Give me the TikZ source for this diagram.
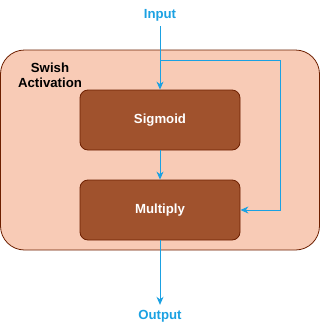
\documentclass[tikz,border=0pt]{standalone}
\usepackage{fontspec}
\setmainfont{Liberation Sans}
\usetikzlibrary{positioning, arrows.meta}

\definecolor{swishfill}{HTML}{F8CBB6}
\definecolor{swishline}{HTML}{6D1F00}
\definecolor{blockfill}{HTML}{A0522D}
\definecolor{flowblue}{HTML}{1BA1E2}

\begin{document}
\begin{tikzpicture}[
    x=1pt, y=-1pt,
    container/.style = {draw=swishline, fill=swishfill, rectangle,
                        rounded corners=24pt, line width=0.8pt,
                        minimum width=319pt, minimum height=200pt},
    block/.style = {draw=swishline, fill=blockfill, rectangle,
                    rounded corners=8pt, line width=0.8pt,
                    minimum width=160pt, minimum height=60pt,
                    text=white, font=\fontsize{13.2}{15}\selectfont\bfseries},
    io/.style = {text=flowblue, inner sep=5pt,
                 font=\fontsize{13.2}{15}\selectfont\bfseries},
    arrow/.style = {-{Stealth[length=8pt, width=7pt, inset=2.5pt]},
                    draw=flowblue, line width=1pt}
]
\useasboundingbox (0,0) rectangle (321,330);

\node[container] (swish) at (160,150) {};
\node[align=center, font=\fontsize{13.2}{15}\selectfont\bfseries] (title) at (50,75) {Swish\\Activation};

\node[block] (sigmoid) at (160,120) {Sigmoid};
\node[block] (multiply) at (160,210) {Multiply};

\node[io] (input) at (160,15) {Input};
\node[io] (output) at (160,316) {Output};

\coordinate (split) at (160,60);
\coordinate (corner) at (280,60);

\draw[arrow] (input) -- (sigmoid);
\draw[arrow] (sigmoid) -- (multiply);
\draw[arrow] (split) -- (corner) |- (multiply.east);
\draw[arrow] (multiply) -- (output);

\end{tikzpicture}
\end{document}
